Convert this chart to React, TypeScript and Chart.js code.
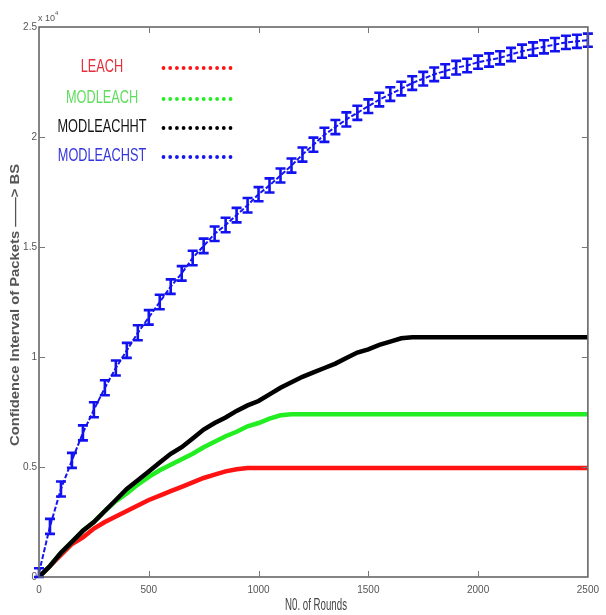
import { useEffect, useRef } from 'react';
import { Chart, registerables } from 'chart.js';

Chart.register(...registerables);

// Rounds (x values)
const rounds = [
  0, 50, 100, 150, 200, 250, 300, 350, 400, 450,
  500, 550, 600, 650, 700, 750, 800, 850, 900, 950,
  1000, 1050, 1100, 1150, 1200, 1250, 1300, 1350, 1400, 1450,
  1500, 1550, 1600, 1650, 1700, 1750, 1800, 1850, 1900, 1950,
  2000, 2050, 2100, 2150, 2200, 2250, 2300, 2350, 2400, 2450, 2500,
];

// Values in units of 10^4 packets
const leach = [
  0, 0.05, 0.10, 0.15, 0.18, 0.22, 0.25, 0.275, 0.30, 0.325,
  0.35, 0.37, 0.39, 0.41, 0.43, 0.45, 0.465, 0.48, 0.49, 0.495,
  0.495, 0.495, 0.495, 0.495, 0.495, 0.495, 0.495, 0.495, 0.495, 0.495,
  0.495, 0.495, 0.495, 0.495, 0.495, 0.495, 0.495, 0.495, 0.495, 0.495,
  0.495, 0.495, 0.495, 0.495, 0.495, 0.495, 0.495, 0.495, 0.495, 0.495, 0.495,
];

const modleach = [
  0, 0.05, 0.11, 0.16, 0.21, 0.25, 0.30, 0.345, 0.38, 0.42,
  0.455, 0.485, 0.51, 0.535, 0.56, 0.59, 0.615, 0.64, 0.66, 0.685,
  0.70, 0.72, 0.735, 0.74, 0.74, 0.74, 0.74, 0.74, 0.74, 0.74,
  0.74, 0.74, 0.74, 0.74, 0.74, 0.74, 0.74, 0.74, 0.74, 0.74,
  0.74, 0.74, 0.74, 0.74, 0.74, 0.74, 0.74, 0.74, 0.74, 0.74, 0.74,
];

const modleachht = [
  0, 0.05, 0.11, 0.16, 0.21, 0.25, 0.30, 0.35, 0.40, 0.44,
  0.48, 0.52, 0.56, 0.59, 0.63, 0.67, 0.70, 0.725, 0.755, 0.78,
  0.80, 0.83, 0.86, 0.885, 0.91, 0.93, 0.95, 0.97, 0.995, 1.02,
  1.035, 1.055, 1.07, 1.085, 1.09, 1.09, 1.09, 1.09, 1.09, 1.09,
  1.09, 1.09, 1.09, 1.09, 1.09, 1.09, 1.09, 1.09, 1.09, 1.09, 1.09,
];

const modleachst = [
  0.02, 0.23, 0.40, 0.53, 0.655, 0.76, 0.86, 0.95, 1.03, 1.11,
  1.18, 1.25, 1.32, 1.38, 1.45, 1.505, 1.56, 1.60, 1.645, 1.69,
  1.74, 1.78, 1.825, 1.87, 1.92, 1.965, 2.01, 2.045, 2.08, 2.11,
  2.14, 2.17, 2.195, 2.22, 2.245, 2.265, 2.285, 2.30, 2.315, 2.325,
  2.34, 2.35, 2.36, 2.375, 2.39, 2.40, 2.41, 2.42, 2.43, 2.435, 2.44,
];

// Half-length of the confidence-interval bars on MODLEACHST (10^4 units)
const modleachstErr = [
  0.02, 0.034, 0.034, 0.034, 0.034, 0.034, 0.034, 0.034, 0.034, 0.034,
  0.033, 0.033, 0.033, 0.033, 0.033, 0.033, 0.033, 0.033, 0.033, 0.033,
  0.032, 0.032, 0.032, 0.032, 0.032, 0.032, 0.032, 0.032, 0.032, 0.032,
  0.031, 0.031, 0.031, 0.031, 0.031, 0.031, 0.031, 0.031, 0.031, 0.031,
  0.030, 0.030, 0.030, 0.030, 0.030, 0.030, 0.030, 0.030, 0.030, 0.030, 0.030,
];

const seriesNames = ['LEACH', 'MODLEACH', 'MODLEACHHT', 'MODLEACHST'];
const lineColors = ['#ff1212', '#22ee22', '#000000', '#1515ee'];
const legendTextColors = ['#e3303a', '#5fdd5f', '#141414', '#3535dd'];
const xTicks = [500, 1000, 1500, 2000];
const yTicks = [0.5, 1, 1.5, 2];

const xTitle = 'N0. of Rounds';
const yTitle = 'Confidence Interval of Packets \u2014\u2014> BS';

function drawCondensed(
  ctx: CanvasRenderingContext2D,
  text: string,
  cx: number,
  cy: number,
  font: string,
  targetWidth: number,
  color: string,
  rotate = 0,
) {
  ctx.save();
  ctx.font = font;
  const w = ctx.measureText(text).width;
  const sx = targetWidth / w;
  ctx.translate(cx, cy);
  if (rotate) ctx.rotate(rotate);
  ctx.scale(sx, 1);
  ctx.fillStyle = color;
  ctx.textAlign = 'center';
  ctx.textBaseline = 'middle';
  ctx.fillText(text, 0, 0);
  ctx.restore();
}

const decorations = {
  id: 'decorations',
  afterDatasetsDraw(chart: any) {
    const { ctx, scales } = chart;
    const xs = scales.x;
    const ys = scales.y;
    // error bars on MODLEACHST
    ctx.save();
    ctx.strokeStyle = '#1212f0';
    ctx.lineWidth = 2.6;
    for (let i = 0; i < rounds.length; i++) {
      const px = xs.getPixelForValue(rounds[i]);
      const top = ys.getPixelForValue(modleachst[i] + modleachstErr[i]);
      const bot = ys.getPixelForValue(modleachst[i] - modleachstErr[i]);
      const cap = 5;
      ctx.beginPath();
      ctx.moveTo(px, top);
      ctx.lineTo(px, bot);
      ctx.moveTo(px - cap, top);
      ctx.lineTo(px + cap, top);
      ctx.moveTo(px - cap, bot);
      ctx.lineTo(px + cap, bot);
      ctx.stroke();
    }
    ctx.restore();
  },
  afterDraw(chart: any) {
    const { ctx, chartArea: a, scales } = chart;
    const xs = scales.x;
    const ys = scales.y;
    ctx.save();
    // box
    ctx.strokeStyle = '#666';
    ctx.lineWidth = 1.6;
    ctx.strokeRect(a.left, a.top, a.right - a.left, a.bottom - a.top);
    // inward ticks
    ctx.lineWidth = 1;
    ctx.strokeStyle = '#777';
    ctx.beginPath();
    for (const t of xTicks) {
      const px = Math.round(xs.getPixelForValue(t)) + 0.5;
      ctx.moveTo(px, a.bottom);
      ctx.lineTo(px, a.bottom - 6);
      ctx.moveTo(px, a.top);
      ctx.lineTo(px, a.top + 6);
    }
    for (const t of yTicks) {
      const py = Math.round(ys.getPixelForValue(t)) + 0.5;
      ctx.moveTo(a.left, py);
      ctx.lineTo(a.left + 6, py);
      ctx.moveTo(a.right, py);
      ctx.lineTo(a.right - 6, py);
    }
    ctx.stroke();

    // exponent label
    ctx.fillStyle = '#555';
    ctx.font = '9px "Liberation Sans Narrow", "Liberation Sans", sans-serif';
    ctx.textAlign = 'left';
    ctx.textBaseline = 'alphabetic';
    ctx.fillText('x 10', 38, 21);
    ctx.font = '6px "Liberation Sans Narrow", "Liberation Sans", sans-serif';
    ctx.fillText('4', 55, 15);

    // axis titles
    drawCondensed(ctx, xTitle, 316, 606, '16px "Liberation Sans", sans-serif', 62, '#444');
    drawCondensed(ctx, yTitle, 15, 305, 'bold 13px "Liberation Sans", sans-serif', 282, '#555', -Math.PI / 2);

    // legend
    const rowsY = [67, 98, 127, 156];
    for (let i = 0; i < seriesNames.length; i++) {
      ctx.save();
      ctx.font = '19px "Liberation Sans", sans-serif';
      const w = ctx.measureText(seriesNames[i]).width;
      ctx.restore();
      drawCondensed(ctx, seriesNames[i], 102, rowsY[i], '19px "Liberation Sans", sans-serif', w * 0.67, legendTextColors[i]);
      ctx.fillStyle = lineColors[i];
      for (let k = 0; k < 11; k++) {
        ctx.beginPath();
        ctx.arc(163.5 + k * 6.7, rowsY[i] + 1, 1.9, 0, Math.PI * 2);
        ctx.fill();
      }
    }
    ctx.restore();
  },
};

export default function App() {
  const ref = useRef<HTMLCanvasElement>(null);
  useEffect(() => {
    const canvas = ref.current!;
    const mk = (ys: number[]) => rounds.map((x, i) => ({ x, y: ys[i] }));
    const tickFont = { family: '"Liberation Sans Narrow", "Liberation Sans", sans-serif', size: 10 };
    const chart = new Chart(canvas, {
      type: 'line',
      data: {
        datasets: [
          {
            label: seriesNames[2], data: mk(modleachht), borderColor: lineColors[2],
            borderWidth: 4.5, pointRadius: 0, order: 0,
          },
          {
            label: seriesNames[1], data: mk(modleach), borderColor: lineColors[1],
            borderWidth: 4.5, pointRadius: 0, order: 1,
          },
          {
            label: seriesNames[0], data: mk(leach), borderColor: lineColors[0],
            borderWidth: 4.5, pointRadius: 0, order: 2,
          },
          {
            label: seriesNames[3], data: mk(modleachst), borderColor: lineColors[3],
            borderWidth: 2, borderDash: [5, 2], pointRadius: 0, order: 3,
          },
        ],
      } as any,
      options: {
        responsive: false,
        animation: false,
        layout: { padding: { top: 27, right: 14, left: 0, bottom: 0 } },
        plugins: { legend: { display: false }, tooltip: { enabled: false } },
        scales: {
          x: {
            type: 'linear', min: 0, max: 2500,
            ticks: {
              stepSize: 500, font: tickFont, color: '#555', padding: 7, maxRotation: 0,
              callback: (v: any) => String(v),
            },
            grid: { display: false, drawTicks: false },
            border: { display: false },
            afterFit: (s: any) => { s.height = 38; },
          },
          y: {
            type: 'linear', min: 0, max: 2.5,
            ticks: {
              stepSize: 0.5, font: tickFont, color: '#555', padding: 2,
              callback: (v: any) => String(Math.round(Number(v) * 10) / 10),
            },
            grid: { display: false, drawTicks: false },
            border: { display: false },
            afterFit: (s: any) => { s.width = 39; },
          },
        },
      } as any,
      plugins: [decorations],
    });
    return () => chart.destroy();
  }, []);
  return (
    <div style={{ position: 'absolute', left: 0, top: 0, width: 606, height: 615, background: '#fff' }}>
      <canvas ref={ref} width={606} height={615} style={{ display: 'block' }} />
    </div>
  );
}
